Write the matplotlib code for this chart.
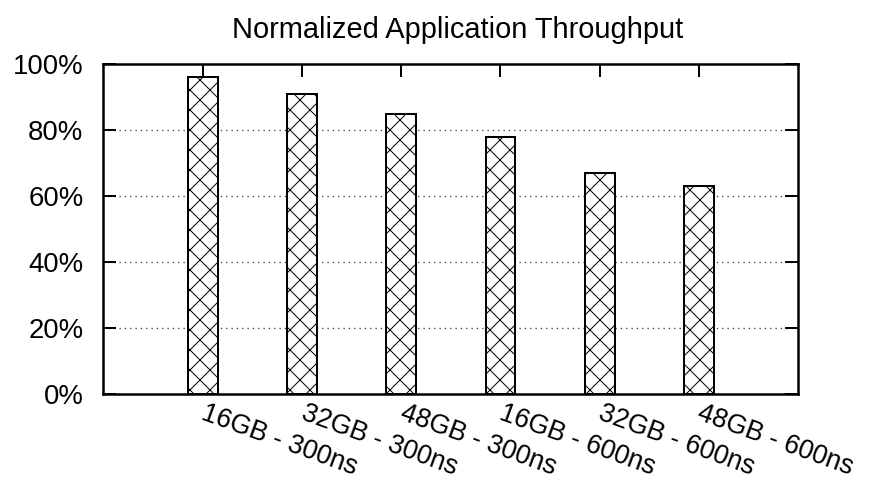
import matplotlib
matplotlib.use('Agg')
from matplotlib import pyplot as plt
from matplotlib.ticker import FuncFormatter

configs = ['16GB - 300ns', '32GB - 300ns', '48GB - 300ns',
           '16GB - 600ns', '32GB - 600ns', '48GB - 600ns']
throughput = [96, 91, 85, 78, 67, 63]

plt.rcParams['font.family'] = ['Liberation Sans', 'DejaVu Sans']
plt.rcParams['hatch.linewidth'] = 0.6

fig = plt.figure(figsize=(877 / 120, 486 / 120), dpi=120)
ax = fig.add_axes([0.118, 0.1887, 0.792, 0.679])

xs = range(len(configs))
ax.bar(xs, throughput, width=0.3, color='white', edgecolor='black',
       linewidth=1.2, hatch='xx', zorder=3)

ax.set_xlim(-1, 6)
ax.set_ylim(0, 100)
ax.set_yticks([0, 20, 40, 60, 80, 100])
ax.yaxis.set_major_formatter(FuncFormatter(lambda v, p: '%d%%' % v))
ax.set_xticks(list(xs))
ax.set_xticklabels(configs, rotation=-20, ha='left', va='center',
                   rotation_mode='anchor', fontsize=16)
ax.tick_params(axis='x', pad=11)

ax.tick_params(direction='in', length=8, width=1.2, top=True, right=True)
ax.tick_params(axis='y', pad=12, labelsize=16.5)
for s in ax.spines.values():
    s.set_linewidth(1.5)

for v in [20, 40, 60, 80]:
    ax.axhline(v, color='#444444', linewidth=0.8, linestyle=(0, (1, 3)), zorder=1)

fig.text(457.5 / 877, 1 - 30 / 486, 'Normalized Application Throughput',
         fontsize=17.4, ha='center', va='center')

fig.savefig('out.png', dpi=120)
